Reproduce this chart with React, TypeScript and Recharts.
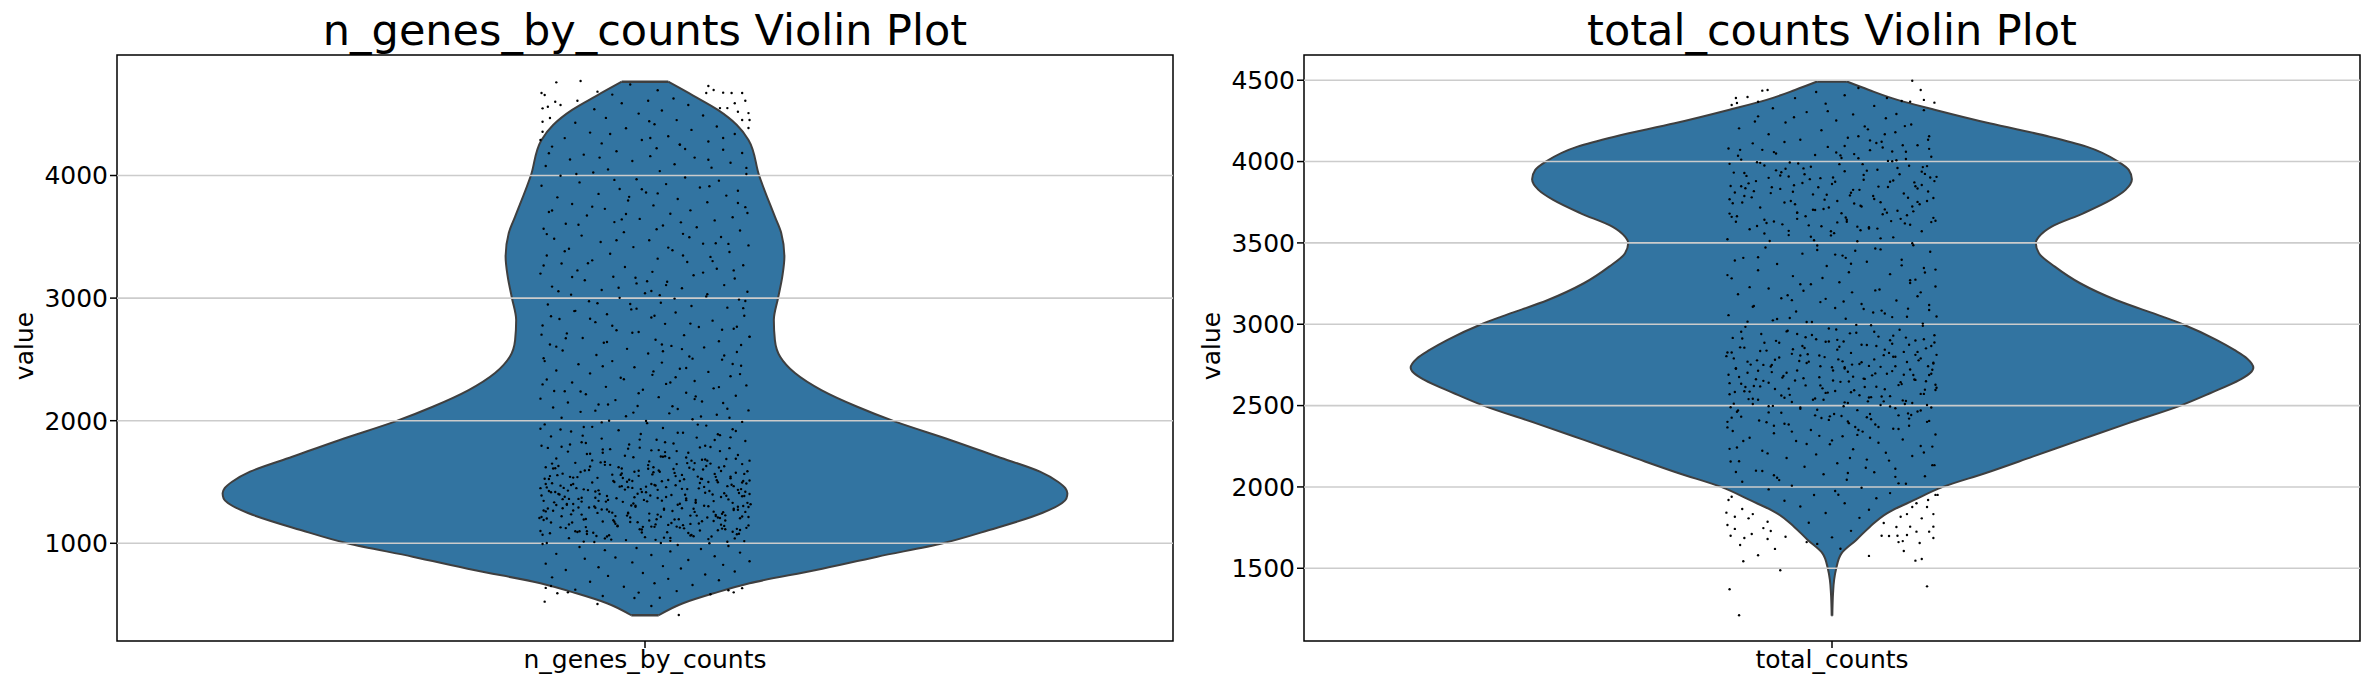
import { ComposedChart, Area, Scatter, XAxis, YAxis, ReferenceLine, ReferenceArea } from 'recharts';

// violin outlines: value, half width (x axis runs -500..500 around the category)
const genesValues = [4765, 4650, 4535, 4412, 4290, 4002, 3664, 3531, 3338, 3175, 3001, 2821, 2658, 2522, 2389, 2250, 2114, 1992, 1843, 1706, 1584, 1502, 1450, 1408, 1365, 1329, 1247, 1108, 1000, 891, 782, 674, 592, 511, 413];
const genesWidths = [22, 46, 69, 87, 98, 108, 123, 129, 132, 130, 126, 122, 123, 128, 142, 167, 201, 237, 289, 334, 374, 391, 398, 400, 399, 395, 376, 326, 282, 220, 162, 99, 65, 36, 13];
const countsValues = [4492, 4440, 4379, 4317, 4235, 4153, 4092, 4000, 3949, 3891, 3826, 3764, 3682, 3600, 3538, 3500, 3436, 3354, 3252, 3149, 3047, 3000, 2904, 2842, 2790, 2733, 2700, 2658, 2576, 2500, 2391, 2289, 2186, 2084, 2000, 1920, 1838, 1756, 1674, 1592, 1500, 1428, 1348, 1209];
const countsWidths = [14, 35, 62, 98, 149, 206, 241, 271, 281, 284, 278, 264, 238, 208, 196, 193, 196, 211, 235, 269, 313, 332, 364, 381, 393, 399, 396, 386, 358, 330, 280, 235, 190, 145, 105, 78, 52, 36, 23, 9, 4, 2, 1, 0.3];

// jitter dots as x,value pairs (a sample of the cloud)
const genesDots = [
  -84,4760, -61,4771, -98,4673, -95,4657, -97,4548, -92,4561, -85,4602, -80,4575, -64,4610, -90,4469, -97,4439, -45,4684, 60,4730, 65,4697, 58,4673, 74,4676, 82,4673, 92,4673, 95,4610, 85,4589, 98,4509, 88,4520, 92,4453, 99,4453, 78,4550, 98,4387, -97,4357, -99,4290, 71,4550,
  -95,524, -45,505, 32,415, 6,489, -94,636, -89,652, -83,592, -73,600, 79,617, 84,600, -10,554,
  -14,4742, 12,4695, -31,4660, 27,4628, 3,4610, -22,4590, 41,4575, -48,4540, 16,4530, -6,4505, 55,4490, -37,4470, 30,4452, -66,4430, 9,4418, 68,4400, -18,4385, 44,4372, -52,4350, 85,4338, 22,4320, -76,4305, -3,4290, 60,4278, -41,4262, 33,4250, -88,4236, 11,4222, 74,4210, -27,4198, 92,4184, -58,4170, 5,4158, 47,4146, -71,4130, -12,4118, 81,4104, 28,4092, -94,4078, 63,4064, -35,4050, 14,4036, -49,4024, 96,4012, -80,3998, 38,3984, -8,3970, 70,3958, -62,3944, 20,3930, -98,3916, 52,3902, -24,3890, 88,3876, 1,3862, -44,3850, 77,3836, -83,3822, 31,3808, -16,3796, 59,3782, -69,3768, 8,3756, 95,3742, -38,3728, 43,3716, -91,3702, 24,3688, -55,3674, 83,3660, -5,3646, 66,3634, -29,3620, -75,3606, 17,3592, 49,3578, -96,3566, 90,3552, -20,3538, 36,3524, -60,3510, 72,3498, -86,3484, 4,3472, -42,3458, 55,3444, 98,3430, -11,3416, -72,3402, 26,3390, 80,3376, -33,3362, -93,3348, 62,3336, 12,3322, -50,3308, 40,3294, -79,3282, 93,3268, -19,3254, 68,3240, -64,3226, 7,3214, -99,3200, 46,3186, -30,3174, 85,3160, -57,3146, 21,3134, -8,3120, 75,3106, -88,3094, 35,3080, -41,3066, 97,3052, 0,3040, -70,3028, 58,3014, -24,3002, 89,2988, -53,2974, 15,2962, -92,2948, 44,2936, 78,2922, -13,2908, -66,2896, 29,2882, -36,2868, 94,2856, 6,2842, -81,2830, 64,2816, -47,2804, 19,2790, -97,2776, 51,2764, 84,2750, -27,2738, -6,2724, -74,2712, 37,2698, 99,2686, -59,2674, 10,2660, 70,2648, -39,2636, -90,2622, 25,2610, 56,2598, -17,2586, -78,2572, 87,2560, 3,2548, -46,2536, 42,2524, -96,2510, 73,2498, -31,2486, 16,2474, -63,2460, 91,2448, -10,2436, 33,2424, -84,2410, 60,2398, -52,2386, 7,2374, 81,2362, -23,2350, -93,2336, 47,2324, -69,2312, 20,2300, 96,2288, -37,2276, 65,2264, -2,2252, -76,2240, 39,2228, -56,2216, 86,2204, 13,2192, -99,2180, -28,2168, 54,2156, 74,2144, -44,2132, -7,2120, -87,2108, 31,2096, 98,2084, -61,2072, 23,2060, 68,2048, -18,2036, -79,2024, 45,2012, -34,2000, 92,1990, 2,1980, -95,1970, 58,1960, -50,1950, 17,1940, 83,1930, -25,1922, -70,1912, 36,1902, -4,1892, 71,1882, -89,1872, 49,1862, -41,1854, 11,1844, 95,1834, -60,1824, 27,1814, -15,1806, -98,1796, 62,1786, 80,1776, -33,1768, 6,1758, -73,1748, 41,1738, -52,1730, 88,1720, 19,1710, -11,1702, -84,1692, 54,1682, 99,1674, -38,1664, -66,1656, 30,1646, 3,1638, 75,1628, -94,1620, -22,1610, 46,1602, -57,1594, 14,1584, 86,1576, -78,1568, 35,1558, -6,1550, 67,1542, -45,1534, -91,1524, 22,1516, 93,1508, -29,1500, 52,1492, -68,1484, 9,1476, 78,1466, -16,1458, -99,1450, 40,1442, -54,1434, 61,1426, -3,1418, 89,1410, -82,1402, 25,1394, -36,1386, 72,1378, 12,1370, -63,1362, 48,1354, -96,1346, -21,1338, 97,1330, 33,1322, -74,1314, 56,1306, -9,1298, -47,1290, 84,1282, 18,1274, -87,1266, 65,1258, -31,1250, 4,1242, -60,1234, 43,1226, 92,1218, -14,1210, -93,1202, 28,1194, 76,1186, -40,1178, -69,1170, 51,1162, 10,1154, 98,1146, -26,1138, -80,1130, 37,1122, -5,1114, 69,1106, -55,1098, 21,1090, -90,1082, 87,1074, -34,1066, 46,1058, 0,1050, -72,1042, 60,1034, -18,1026, 94,1018, -48,1010, 15,1002, -97,994, 31,986, 79,978, -62,970, -8,962, 53,954, -38,944, 24,934, 90,924, -84,914, 6,904, 66,894, -28,884, -57,874, 41,864, 99,854, -12,844, -94,834, 74,824, 17,814, -44,804, 34,794, -75,782, 85,770, -2,758, 57,746, -35,734, -88,722, 22,710, 70,698, -52,686, 9,674, 45,660, -20,646, 92,634, -66,622, 30,610, -6,598, 62,584, -40,570, 14,556,
  -77,1452, 38,1396, -12,1508, 65,1344, -92,1284, 7,1562, 49,1226, -58,1440, 82,1478, -30,1188, 16,1348, -85,1612, 72,1152, -47,1372, 95,1420, 26,1264, -68,1536, 55,1602, -3,1112, -98,1390, 40,1654, 88,1298, -24,1462, 11,1196, -74,1320, 60,1500, -42,1660, 33,1128, 77,1388, -16,1244, -89,1170, 50,1544, 1,1416, -62,1098, 97,1588, -35,1354, 23,1696, 69,1210, -80,1470, -9,1306, 44,1068, -53,1598, 91,1442, 18,1282, -95,1526, 73,1120, -27,1368, 58,1630, -70,1236, 6,1484, 36,1148, -43,1402, 84,1272, -19,1714, 99,1512, -86,1334, 28,1574, 63,1056, -56,1198, 12,1436, -33,1640, 79,1358, -99,1100, 47,1256, -6,1592, -65,1450, 90,1204, 20,1378, -38,1040, 54,1524, -78,1286, 4,1668, 75,1142, -50,1496, 31,1314, -14,1174, 94,1566, -91,1426, 67,1232, -25,1620, 41,1084, -60,1340, 10,1472, 86,1690, -45,1248, -83,1556, 24,1020, 57,1412, -2,1134, -72,1362, 98,1296, -30,1508, 15,1216, 70,1618, -55,1076, 35,1444, -96,1190, 81,1530, -11,1324, -40,1738, 52,1104, -68,1268, 8,1580, 92,1384, -22,1466, 43,1158, -88,1650, 61,1000, -48,1300, 29,1548, 76,1228, -7,1404, -75,1124, 96,1488, -36,1276, 17,1706, 65,1182, -58,1014, 39,1352, -93,1456, 3,1608, 83,1094, -28,1222, -64,1540, 48,1330, 13,1760, 88,1436, -46,1060, 74,1254, -17,1502, -81,1398, 30,1136, 59,1674, -100,1206, 100,1318,
  -67,2894, 22,3412, 91,2618, -15,3826, 48,2198, -82,3056, 5,4306, 73,2742, -41,1986, 34,3618, -95,2486, 60,4128, -8,2914, -54,3284, 86,1916, 17,2566, -29,3964, 79,3442, -73,2148, 2,3138, 43,2792, -88,3714, 66,1842, -20,2338, 96,4062, 28,2996, -59,1878, 11,3562, -36,2642, 55,3208, -99,1934, 83,2462, -3,3888, -47,2082, 38,4216, 70,2274, -76,3382, 19,1824, -12,2718, 93,2918, -63,3598, 50,1968, -25,3084, 8,2402, -91,4182, 64,3302, 31,1902, -52,2832, 88,3776, -6,2224, -79,1788, 42,3496, 75,2532, -33,4338, 14,3024, -97,2296, 57,1796, -18,3686, 99,2684, -69,3172, 26,2118, 4,4442, -45,2958, 81,1864, -84,2604, 36,3348, -11,2066, 61,3912, -56,1818, 90,2380, 20,3106, -31,2774, -93,3522, 47,2176, 71,1752, -65,4012, 9,2856, -40,2444, 84,3226, 53,2034, -22,3642, -86,2242, 1,1998, 67,3448, -75,2672, 33,4254, -5,1846, 95,2976, -50,3746, 24,2312, -16,1772, 78,2098, -96,3266, 45,2506, -58,1948, 12,3854, 87,2766, -35,2132, 59,3032, -71,1806, -9,3166, 39,2430, -89,2852, 69,1890, 16,2622, -27,3472, 97,3694, -61,2238, 6,3058, -43,4146, 80,2024, 29,2354, -98,2702, 52,1782, -14,2952, 74,4306, -80,1928, 35,2584,
  -85,1418, 46,1282, -23,1558, 71,1206, -60,1372, 9,1134, 92,1496, -38,1640, 24,1044, -94,1260, 57,1684, -4,1442, -72,1154, 83,1330, 13,1594, -49,1086, 68,1514, -17,1226, 39,1366, -82,1630, 96,1126, 1,1462, -63,1292, 30,1752, -29,1176, 75,1408, -90,1548, 18,1046, -44,1346, 59,1210, -10,1584, 87,1118, -70,1476, 44,1674, -34,1258, 5,1390, -97,1070, 66,1566, 22,1150, -55,1728, 93,1304, -19,1438, -79,1220, 37,1522, 78,1012, -1,1354, -52,1626, 54,1180, -88,1490, 15,1708, -41,1276, 99,1402, -66,1098, 27,1606, 73,1240, -12,1452, -92,1778, 48,1336, 6,1136, -31,1560, 84,1466, -58,1194, 62,1650, -76,1380, 10,1028, 35,1286, -21,1532, 90,1108, -47,1422, -98,1214, 42,1616, 69,1498, -7,1172, -84,1312, 19,1744, -36,1056, 56,1460, 95,1256, -61,1582, 2,1342, -26,1144, 77,1688, -73,1430, 32,1196, -15,1518, 89,1078, -53,1292, 47,1654, -94,1484, 12,1234, 64,1398, -40,1766, -3,1088, 81,1544, -68,1320, 25,1166, -87,1610, 51,1448, -32,1030, 98,1214, -10,1376, 72,1590, -56,1132, 16,1506, -96,1268, 39,1700, 85,1040, -44,1432, 60,1302, -22,1570, 4,1186, -78,1360, 92,1646, -64,1092, 29,1474, -16,1250, 53,1526, -89,1416, 76,1114, 8,1620, -37,1340, 67,1222, -5,1780, 43,1064, -71,1542, 94,1386, -28,1160, 20,1458, -50,1676, 88,1274, -93,1002, 33,1508, -13,1308,
];
const countsDots = [
  -66,4436, -61,4440, -91,4391, -80,4397, -95,4348, -90,4360, -70,4368, 76,4497, 84,4440, 87,4379, 97,4362, 74,4368, 52,4391,
  -97,1371, -88,1211, -49,1488, 90,1389, -84,1543, -70,1580, 79,1547, 85,1557, 68,1606, 35,1576, -54,1619, -87,1643, 83,1655, -24,1661, 63,1661, 67,1667,
  -98,1920, -95,1940, -100,1842, -99,1766, -96,1700, -92,1817, -92,1742, -85,1864, -79,1807, -75,1833, -65,1747, -61,1786, -58,1729, -44,1694, -76,1711, -61,1680, -83,1686,
  49,1778, 47,1700, 54,1698, 61,1754, 65,1817, 71,1833, 74,1756, 80,1725, 76,1877, 85,1807, 90,1877, 96,1833, 92,1725, 96,1686, 96,1756, 98,1951, 100,1951, 91,1920, 80,1900, 71,1705, 62,1700,
  0,1690, 8,1620, -14,1650, 18,1730, -22,1780, 26,1810, -6,1840, 35,1860, -30,1880, 12,1900, -45,1915, 42,1930, -17,1950, 55,1962, 3,1975, -60,1985, 28,1995, -38,2008, 70,2020, -85,2032, 14,2044, -52,2056, 88,2066, -8,2078, 40,2090, -72,2100, 60,2112, -26,2124, 95,2134, 5,2146, -96,2156, 33,2168, -43,2178, 76,2190, -15,2200, 51,2210, -66,2222, 20,2232, -90,2242, 84,2252, -2,2262, 44,2272, -34,2282, 67,2292, -78,2302, 10,2312, 98,2322, -55,2330, 29,2340, -20,2350, 58,2358, -99,2366, 73,2376, -41,2384, 16,2392, 90,2400, -69,2408, 37,2416, -10,2424, -86,2432, 63,2440, 2,2448, -48,2456, 81,2464, 24,2472, -30,2480, 94,2488, -60,2496, 46,2504, -93,2512, 12,2520, 70,2528, -18,2536, -75,2542, 35,2550, 55,2558, -40,2566, 87,2572, -4,2580, -83,2588, 21,2594, -54,2602, 99,2610, 42,2616, -25,2624, 66,2632, -97,2638, 8,2646, -65,2652, 78,2660, 30,2666, -12,2674, -46,2682, 92,2688, 52,2696, -80,2702, 15,2708, -33,2716, 74,2722, -91,2730, 0,2736, 60,2742, -57,2750, 26,2756, 96,2764, -22,2770, -71,2778, 40,2784, 84,2790, -7,2798, -100,2804, 49,2810, -38,2818, 18,2824, 68,2830, -62,2838, 5,2844, 89,2852, -87,2858, -28,2866, 33,2872, 57,2880, -50,2886, 11,2894, 79,2900, -15,2908, -94,2916, 44,2924, 97,2932, -67,2940, 23,2948, -43,2956, 64,2966, -3,2974, -82,2984, 37,2994, 86,3004, -24,3014, -56,3024, 13,3034, 71,3046, -98,3056, 50,3066, -34,3078, 92,3088, 3,3100, -74,3112, 28,3124, -11,3136, 61,3146, -48,3160, 81,3172, -89,3184, 19,3196, 41,3208, -60,3220, 98,3232, -20,3246, 7,3258, 74,3270, -95,3282, -37,3296, 55,3308, 16,3320, -70,3332, 87,3346, -5,3358, -52,3370, 33,3384, 66,3396, -84,3408, 10,3422, -28,3434, 93,3446, 46,3460, -63,3472, -14,3484, 76,3498, 24,3510, -99,3522, 58,3534, -41,3548, 2,3560, 85,3572, -78,3584, 35,3596, -22,3608, 69,3620, -55,3632, 14,3642, 96,3654, -90,3664, 48,3676, -33,3686, 62,3698, -8,3708, -68,3718, 27,3728, 83,3738, -45,3748, 5,3758, -97,3768, 72,3778, 39,3788, -18,3798, -58,3806, 91,3816, 20,3826, -82,3836, 53,3844, -36,3854, 0,3862, 78,3872, -72,3880, 30,3888, -11,3898, 99,3906, -49,3914, 64,3922, -93,3932, 12,3940, 43,3950, -27,3958, 86,3966, -64,3976, 7,3984, -40,3994, 57,4002, -86,4012, 25,4020, 94,4030, -16,4040, -53,4050, 70,4060, 36,4070, -98,4080, -4,4090, 81,4100, -75,4112, 47,4122, -30,4134, 15,4146, 92,4156, -60,4168, 60,4180, -10,4192, -88,4204, 31,4216, 75,4228, -44,4240, 4,4252, 51,4266, -70,4278, 20,4290, -24,4304, 87,4316, -56,4328, 40,4342, -6,4356, 66,4372, -35,4390, 12,4408, -15,4428, 25,4452,
  -77,2752, 38,2686, -12,2808, 65,2644, -92,2584, 7,2862, 49,2526, -58,2740, 82,2778, -30,2488, 16,2648, -85,2912, 72,2452, -47,2672, 95,2720, 26,2564, -68,2836, 55,2902, -3,2412, -98,2690, 40,2954, 88,2598, -24,2762, 11,2496, -74,2620, 60,2800, -42,2960, 33,2428, 77,2688, -16,2544, -89,2470, 50,2844, 1,2716, -62,2398, 97,2888, -35,2654, 23,2996, 69,2510, -80,2770, -9,2606, 44,2368, -53,2898, 91,2742, 18,2582, -95,2826, 73,2420, -27,2668, 58,2930, -70,2536, 6,2784, 36,2448, -43,2702, 84,2572, -19,3014, 99,2812, -86,2634, 28,2874, 63,2356, -56,2498, 12,2736, -33,2940, 79,2658, -99,2400, 47,2556, -6,2892, -65,2750, 90,2504, 20,2678, -38,2340, 54,2824, -78,2586, 4,2968, 75,2442, -50,2796, 31,2614, -14,2474, 94,2866, -91,2726, 67,2532, -25,2920, 41,2384, -60,2640, 10,2772, 86,2990, -45,2548, -83,2856, 24,2320, 57,2712, -2,2434, -72,2662, 98,2596, -30,2808, 15,2516, 70,2918, -55,2376, 35,2744, -96,2490, 81,2830, -11,2624, -40,3038,
  -81,3912, 44,3846, -20,3968, 68,3804, -94,3744, 9,4022, 52,3686, -60,3900, 85,3938, -33,3648, 18,3808, -87,4072, 74,3612, -49,3832, 97,3880, 28,3724, -71,3996, 57,4062, -1,3572, -96,3850, 42,4114, 90,3758, -26,3922, 13,3656, -76,3780, 62,3960, -45,4120, 35,3588, 79,3848, -18,3704, -91,3630, 53,4004, 3,3876, -64,3558, 99,3048, -37,3814, 25,4156, 71,3670, -83,3930, -7,3766, 46,3528, -55,4058, 93,3902, 21,3742, -97,3986,
  -42,3178, 87,2212, -70,3412, 15,2086, 56,3634, -9,3284, -88,2158, 34,4198, 72,3096, -24,2264, -59,3512, 98,3336, 6,1952, -36,4272, 45,3214, -94,2344, 81,3752, -14,3456, 63,2022, -75,3108, 27,3578, 0,2286, 91,4134, -52,3032, 18,3372, -86,3848, 54,2162, -30,3246, 77,3486, -66,2098, 39,3072, -4,4310, 95,2248, -47,3614, 11,3140, 69,4218, -99,3302, 32,2118, -20,3538, 84,3196, -61,2206, 48,4086, 3,3428, -80,3016, 60,2062, -33,3686, 92,3118, -12,2314, -92,3392, 24,3600, 74,3254, -55,2072, 41,3466, -6,3156, -73,4246, 88,3318, 17,2178, -41,3574, 57,3044, -97,2234, 8,4038, 66,3362, -27,3206, -64,3642, 97,2134, 30,3094, -17,3516, 50,4168, -84,2282, 79,3274, 13,3408, -50,2042, 94,3628, -38,3148, 36,2302, -1,3546, -78,3228, 61,4292, 22,3452, -91,2092, 47,3084,
  -83,3788, 30,3918, -16,3702, 70,4016, -57,3842, 5,3626, 90,3972, -39,3758, 58,3884, -95,3660, 21,4046, -5,3796, 76,3724, -68,3992, 43,3588, -28,3868, 96,3776, -48,3934, 12,4096, 65,3648, -74,3818, 33,3944, -10,3602, 85,3856, -89,4036, 50,3706, 1,3902, -35,3738, 73,3974, -62,3622, 26,3826, 92,4078, -21,3892, -97,3680, 40,3770, 61,4008, -53,3946, 9,3682, 81,3834, -79,3866, 36,4130, -3,3718, -44,3956, 98,3636, 17,3792, -66,4072, 55,3876, -25,3664, 88,3924, -92,3810, 46,3750, 4,4056, -71,3604, 29,3984, -13,3842, 77,3694, -41,3908, 67,4100, -85,3748, 14,3630, -32,3988,
  -82,2614, 28,2766, -8,2536, 73,2874, -60,2458, 41,2698, -93,2790, 15,2402, 89,2650, -37,2846, 3,2590, -70,2714, 55,2494, -19,2934, 96,2758, -48,2562, 22,2368, 79,2812, -88,2676, 34,2526, -3,2894, 63,2626, -54,2782, 9,2436, -97,2570, 46,2738, 84,2470, -26,2854, -75,2510, 68,2690, 17,2944, -41,2604, 92,2406, -11,2742, -64,2886, 37,2552, 58,2800, -90,2462, 1,2654, 76,2516, -31,2774, 25,2350, -99,2826, 50,2600, -57,2706, 87,2908, -16,2440, 12,2728, -79,2540, 42,2866, 98,2628, -45,2388, 71,2768, -6,2578, -86,2954, 31,2664, 60,2484, -23,2816, -68,2618, 5,2904, 94,2696, -38,2522, 19,2752, -95,2426,
];

const genesTicks = [1000, 2000, 3000, 4000];
const countsTicks = [1500, 2000, 2500, 3000, 3500, 4000, 4500];

const toRows = (values: number[], widths: number[]) => values.map((v, i) => ({ v, range: [-widths[i], widths[i]] }));
const toDots = (flat: number[]) => {
  const out: { x: number; v: number }[] = [];
  for (let i = 0; i < flat.length; i += 2) out.push({ x: flat[i], v: flat[i + 1] });
  return out;
};

const FONT = '"DejaVu Sans", sans-serif';
const Dot = (p: any) => <circle cx={p.cx} cy={p.cy} r={1.2} fill="#000" />;

type PanelProps = {
  name: string;
  left: number;
  domain: [number, number];
  ticks: number[];
  values: number[];
  widths: number[];
  dots: number[];
};

function Panel({ name, left, domain, ticks, values, widths, dots }: PanelProps) {
  const rows = toRows(values, widths);
  const last = rows.length - 1;
  return (
    <div style={{ position: 'absolute', left, top: 0 }}>
      <ComposedChart
        width={1186}
        height={690}
        data={rows}
        layout="vertical"
        margin={{ top: 55, right: 13, bottom: 0, left: 0 }}
      >
        <text x={645} y={45} textAnchor="middle" fontFamily={FONT} fontSize={43} fill="#000">
          {name} Violin Plot
        </text>
        <text transform="translate(33 346) rotate(-90)" textAnchor="middle" fontFamily={FONT} fontSize={25} fill="#000">
          value
        </text>
        <XAxis
          type="number"
          dataKey="x"
          domain={[-500, 500]}
          ticks={[0]}
          tickFormatter={() => name}
          height={49}
          tick={{ fill: '#000', fontSize: 25, fontFamily: FONT }}
          tickSize={7}
          tickLine={{ stroke: '#000', strokeWidth: 1.5 }}
          axisLine={false}
        />
        <YAxis
          type="number"
          dataKey="v"
          domain={domain}
          ticks={ticks}
          interval={0}
          reversed
          allowDataOverflow
          width={117}
          tick={{ fill: '#000', fontSize: 25, fontFamily: FONT }}
          tickSize={7}
          tickLine={{ stroke: '#000', strokeWidth: 1.5 }}
          axisLine={false}
        />
        <Area
          dataKey="range"
          type="monotone"
          fill="#3274a1"
          fillOpacity={1}
          stroke="#3f3f3f"
          strokeWidth={2}
          dot={false}
          activeDot={false}
          isAnimationActive={false}
        />
        <ReferenceLine segment={[{ x: -widths[0], y: values[0] }, { x: widths[0], y: values[0] }]} stroke="#3f3f3f" strokeWidth={2.5} />
        <ReferenceLine segment={[{ x: -widths[last], y: values[last] }, { x: widths[last], y: values[last] }]} stroke="#3f3f3f" strokeWidth={2.5} />
        {ticks.map((t) => (
          <ReferenceLine key={t} y={t} stroke="#cccccc" strokeWidth={1.6} />
        ))}
        <ReferenceArea x1={-500} x2={500} y1={domain[0]} y2={domain[1]} fill="none" stroke="#000" strokeWidth={1.5} />
        <Scatter data={toDots(dots)} dataKey="v" shape={Dot} isAnimationActive={false} />
      </ComposedChart>
    </div>
  );
}

export default function App() {
  return (
    <div style={{ position: 'absolute', left: 0, top: 0, width: 2371, height: 690, background: '#fff', overflow: 'hidden' }}>
      <Panel name="n_genes_by_counts" left={0} domain={[203, 4983]} ticks={genesTicks} values={genesValues} widths={genesWidths} dots={genesDots} />
      <Panel name="total_counts" left={1187} domain={[1053, 4655]} ticks={countsTicks} values={countsValues} widths={countsWidths} dots={countsDots} />
    </div>
  );
}
